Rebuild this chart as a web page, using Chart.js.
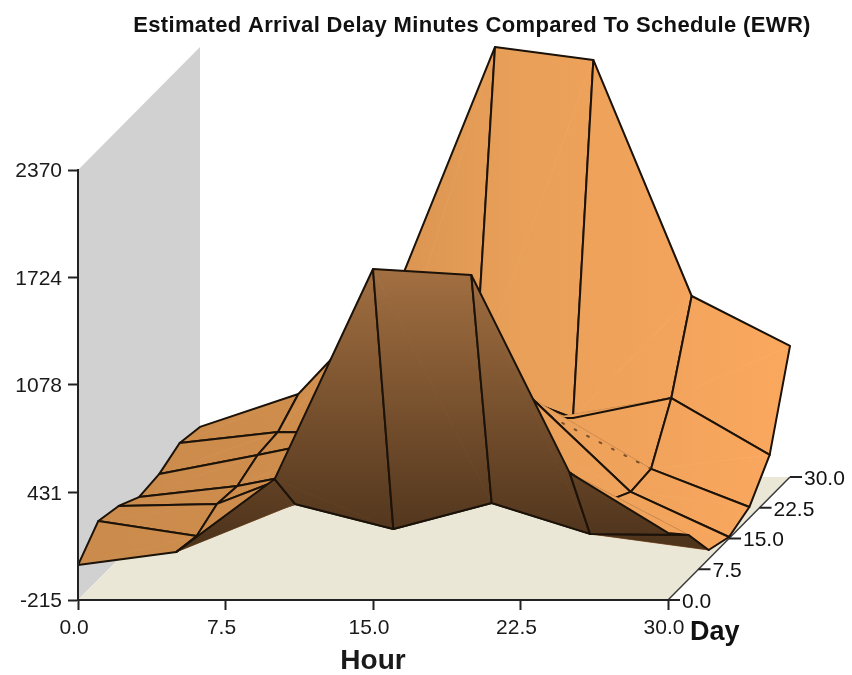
<!DOCTYPE html>
<html>
<head>
<meta charset="utf-8">
<title>Estimated Arrival Delay</title>
<script src="https://cdn.jsdelivr.net/npm/chart.js@4"></script>
<style>
  html, body { margin: 0; padding: 0; background: #fff; }
  canvas { display: block; }
</style>
</head>
<body>
<canvas id="surface" width="852" height="675"></canvas>
<script>
const TITLE = "Estimated Arrival Delay Minutes Compared To Schedule (EWR)"

// grid of the surface
const hours = [ 0, 5, 10, 15, 20, 25, 30 ]
const days = [ 0, 5, 10, 15, 20, 25, 30 ]

// delay minutes, one array per hour, one value per day
const delayHour0 = [ -5, 137, 104, 34, 50, 113, 86 ]
const delayHour5 = [ 74, 47, 116, 101, 164, 179, 284 ]
const delayHour10 = [ 512, 239, 344, 215, 284, 176, 909 ]
const delayHour15 = [ 1775, 89, 200, 254, 314, 488, 2370 ]
const delayHour20 = [ 1739, 245, 537, 624, 386, 263, 2292 ]
const delayHour25 = [ 549, 59, 140, 65, 80, 383, 873 ]
const delayHour30 = [ 188, 53, -161, -206, -149, 41, 573 ]
const delays = [ delayHour0, delayHour5, delayHour10, delayHour15, delayHour20, delayHour25, delayHour30 ]

// ticks
const hourTicks = [ 0, 7.5, 15, 22.5, 30 ]
const dayTicks = [ 0, 7.5, 15, 22.5, 30 ]
const valueTicks = [ -215, 431, 1078, 1724, 2370 ]

// edges "hour,day,side" (side 0 front, 1 right, 2 back, 3 left)
const hiddenEdges = [ "1,0,2", "5,2,0", "5,1,2" ]
const dottedEdges = [ "4,4,0", "4,3,2" ]

// oblique view : one day moves right and up
const DEPTH_X = 0.2068
const DEPTH_Y = 24.65
const FONT = "'Liberation Sans', Arial, sans-serif"
const LINE = "#1b1209"

function project( hour, day, value ) {
    return { x: hour + day * DEPTH_X, y: value + day * DEPTH_Y }
}

function gridPoint( i, j ) {
    return project( hours[ i ], days[ j ], delays[ i ][ j ] )
}

function polygon( points, paint, extra = {} ) {
    return Object.assign( {
        data: points.concat( [ points[ 0 ] ] ),
        paint: paint,
        showLine: true,
        pointRadius: 0,
        borderWidth: 0,
        borderColor: "rgba(0,0,0,0)",
        clip: false
    }, extra )
}

// orange on top of the surface, brown when it is seen from below
function sideOf( a, b, c ) {
    const cross = ( b.x - a.x ) * ( c.y - a.y ) - ( b.y - a.y ) * ( c.x - a.x )
    return cross > 0 ? "top" : "under"
}

function buildDatasets() {
    const zMin = valueTicks[ 0 ], zMax = valueTicks[ 4 ]
    const hMax = hours[ 6 ], dMax = days[ 6 ]
    let list = []

    list.push( polygon( [ project( 0, 0, zMin ), project( 0, 0, zMax ), project( 0, dMax, zMax ), project( 0, dMax, zMin ) ], "#d1d1d1" ) )
    list.push( polygon( [ project( 0, 0, zMin ), project( hMax, 0, zMin ), project( hMax, dMax, zMin ), project( 0, dMax, zMin ) ], "#eae7d7" ) )
    // Day axis, written right to left
    list.push( {
        data: [ project( hMax, dMax, zMin ), project( hMax, 0, zMin ) ],
        showLine: true, pointRadius: 0, borderWidth: 1.5, borderColor: "#3a3a3a", clip: false
    } )

    // painter : far days first, left hours first
    for ( let j = days.length - 2; j >= 0; j-- ) {
        for ( let i = 0; i < hours.length - 1; i++ ) {
            const a = gridPoint( i, j ), b = gridPoint( i + 1, j )
            const c = gridPoint( i + 1, j + 1 ), d = gridPoint( i, j + 1 )
            list.push( polygon( [ a, c, d ], sideOf( a, c, d ) ) )
            list.push( polygon( [ a, b, c ], sideOf( a, b, c ) ) )
            list.push( {
                data: [ a, b, c, d, a ],
                showLine: true, pointRadius: 0, clip: false,
                borderWidth: 2, borderColor: LINE, borderJoinStyle: "round", borderCapStyle: "round",
                segment: {
                    borderColor: ctx => {
                        const key = i + "," + j + "," + ctx.p0DataIndex
                        if ( hiddenEdges.includes( key ) ) return "rgba(0,0,0,0)"
                        if ( dottedEdges.includes( key ) ) return "#7a4f2a"
                        return undefined
                    },
                    borderDash: ctx => dottedEdges.includes( i + "," + j + "," + ctx.p0DataIndex ) ? [ 2, 12 ] : undefined
                }
            } )
        }
    }

    // first dataset is drawn last in Chart.js
    list.forEach( ( ds, idx ) => { ds.order = list.length - idx } )
    return list
}

function makePaints( ctx ) {
    let top = ctx.createLinearGradient( 80, 0, 800, 0 )
    top.addColorStop( 0, "#ca8b4c" )
    top.addColorStop( 0.3, "#cf8d4c" )
    top.addColorStop( 0.6, "#e89f58" )
    top.addColorStop( 1, "#fca85f" )
    let under = ctx.createLinearGradient( 0, 270, 0, 540 )
    under.addColorStop( 0, "#a26f41" )
    under.addColorStop( 1, "#4f341c" )
    return { top: top, under: under }
}

// Fills the polygons from the points placed by the scales
const polygonFill = {
    id: "polygonFill",
    beforeDatasetDraw( chart, args ) {
        const ds = chart.data.datasets[ args.index ]
        if ( !ds.paint ) return
        if ( !chart.$paints ) chart.$paints = makePaints( chart.ctx )
        const ctx = chart.ctx
        const pts = args.meta.data
        const color = chart.$paints[ ds.paint ] || ds.paint
        ctx.save()
        ctx.beginPath()
        pts.forEach( ( p, k ) => k == 0 ? ctx.moveTo( p.x, p.y ) : ctx.lineTo( p.x, p.y ) )
        ctx.closePath()
        ctx.fillStyle = color
        ctx.fill()
        if ( ds.paint == "top" || ds.paint == "under" ) {
            // hides the seam between two triangles
            ctx.strokeStyle = color
            ctx.lineWidth = 0.7
            ctx.stroke()
        }
        ctx.restore()
    }
}

// Title and Day axis : Chart.js has no third axis
const depthAxis = {
    id: "depthAxis",
    afterDraw( chart ) {
        const ctx = chart.ctx
        const sx = chart.scales.x, sy = chart.scales.y
        ctx.save()
        ctx.fillStyle = "#111"
        ctx.textBaseline = "middle"
        ctx.font = "bold 22px " + FONT
        ctx.letterSpacing = "0.35px"
        ctx.textAlign = "center"
        ctx.fillText( TITLE, 472, 26 )
        ctx.letterSpacing = "0px"

        ctx.font = "21px " + FONT
        ctx.textAlign = "left"
        ctx.strokeStyle = "#222"
        ctx.lineWidth = 2
        dayTicks.forEach( day => {
            const p = project( hours[ 6 ], day, valueTicks[ 0 ] )
            const x = sx.getPixelForValue( p.x ), y = sy.getPixelForValue( p.y )
            ctx.beginPath()
            ctx.moveTo( x, y )
            ctx.lineTo( x + 12, y )
            ctx.stroke()
            ctx.fillText( day.toFixed( 1 ), x + 14, y + 2 )
        } )

        ctx.font = "bold 27px " + FONT
        ctx.fillText( "Day", 690, 633 )
        ctx.restore()
    }
}

new Chart( document.getElementById( "surface" ), {
    type: "scatter",
    data: { datasets: buildDatasets() },
    plugins: [ polygonFill, depthAxis ],
    options: {
        responsive: false,
        animation: false,
        events: [],
        layout: { padding: { top: 170, right: 184 } },
        plugins: { legend: { display: false }, tooltip: { enabled: false }, title: { display: false } },
        scales: {
            x: {
                type: "linear", min: 0, max: 30,
                afterFit: s => { s.height = 75 },
                afterBuildTicks: s => { s.ticks = hourTicks.map( v => ( { value: v } ) ) },
                border: { color: "#222", width: 2, z: 1 },
                grid: { drawOnChartArea: false, color: "#222", tickLength: 10, tickWidth: 2 },
                ticks: {
                    color: "#1a1a1a", font: { family: FONT, size: 21 }, maxRotation: 0, autoSkip: false, padding: 6, labelOffset: -4,
                    callback: v => Number( v ).toFixed( 1 )
                },
                title: { display: true, text: "Hour", color: "#1a1a1a", font: { family: FONT, size: 28, weight: "bold", lineHeight: 1 }, padding: 0 }
            },
            y: {
                type: "linear", min: -215, max: 2370,
                afterFit: s => { s.width = 78 },
                afterBuildTicks: s => { s.ticks = valueTicks.map( v => ( { value: v } ) ) },
                border: { color: "#222", width: 2, z: 1 },
                grid: { drawOnChartArea: false, color: "#222", tickLength: 10, tickWidth: 2 },
                ticks: { color: "#1a1a1a", font: { family: FONT, size: 21 }, autoSkip: false, padding: 6, labelOffset: 1.5, callback: v => String( v ) }
            }
        }
    }
} )
</script>
</body>
</html>
